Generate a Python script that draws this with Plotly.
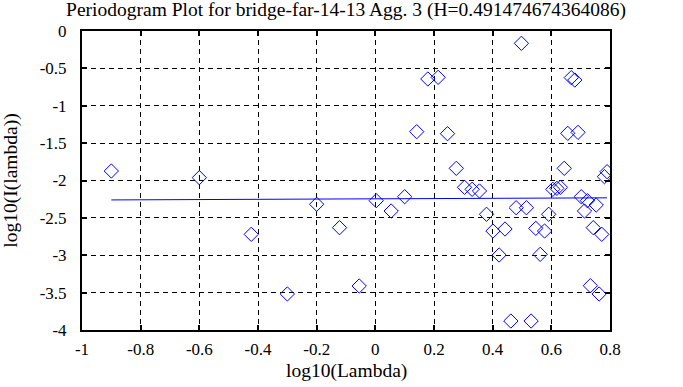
import plotly.graph_objects as go

log_lambda = [-0.9, -0.6, -0.423, -0.3, -0.2, -0.122, -0.055, 0.003, 0.054, 0.1,
              0.141, 0.179, 0.214, 0.246, 0.276, 0.304, 0.33, 0.355, 0.379, 0.401,
              0.422, 0.442, 0.462, 0.48, 0.498, 0.515, 0.531, 0.547, 0.562, 0.577,
              0.591, 0.605, 0.619, 0.631, 0.644, 0.656, 0.668, 0.68, 0.691, 0.702,
              0.713, 0.723, 0.733, 0.743, 0.753, 0.763, 0.772, 0.781, 0.79]
log_I = [-1.873, -1.962, -2.72, -3.518, -2.318, -2.631, -3.411, -2.27, -2.408, -2.217,
         -1.347, -0.642, -0.62, -1.374, -1.837, -2.091, -2.118, -2.14, -2.452, -2.676,
         -2.997, -2.649, -3.88, -2.364, -0.165, -2.364, -3.88, -2.64, -2.988, -2.676,
         -2.452, -2.118, -2.105, -2.091, -1.837, -1.369, -0.624, -0.656, -1.356, -2.217,
         -2.408, -2.27, -3.407, -2.631, -2.328, -3.518, -2.72, -1.949, -1.882]
fit_x = [-0.9, 0.79]
fit_y = [-2.26, -2.232]

x_ticks = [-1, -0.8, -0.6, -0.4, -0.2, 0, 0.2, 0.4, 0.6, 0.8]
x_tick_text = ["-1", "-0.8", "-0.6", "-0.4", "-0.2", "0", "0.2", "0.4", "0.6", "0.8"]
y_ticks = [0, -0.5, -1, -1.5, -2, -2.5, -3, -3.5, -4]
y_tick_text = ["0", "-0.5", "-1", "-1.5", "-2", "-2.5", "-3", "-3.5", "-4"]

title = "Periodogram Plot for bridge-far-14-13 Agg. 3 (H=0.491474674364086)"
x_title = "log10(Lambda)"
y_title = "log10(I(lambda))"

font = "Liberation Serif, Times New Roman, serif"
title_size = 19.5
tick_size = 17

fig = go.Figure()
fig.add_trace(go.Scatter(x=log_lambda, y=log_I, mode="markers",
                         marker=dict(symbol="diamond-open", size=11, color="#0000ff",
                                     line=dict(width=1, color="#0000ff")),
                         showlegend=False))
fig.add_trace(go.Scatter(x=fit_x, y=fit_y, mode="lines",
                         line=dict(color="#0000ff", width=1), showlegend=False))

axis_common = dict(showline=True, linecolor="black", linewidth=2, mirror="ticks",
                   ticks="inside", ticklen=5, tickwidth=2, tickcolor="black",
                   showgrid=True, gridcolor="black", gridwidth=1, griddash="5px,4px",
                   zeroline=False, automargin=False,
                   tickfont=dict(family=font, size=tick_size, color="black"))

fig.update_xaxes(range=[-1, 0.8], tickvals=x_ticks, ticktext=x_tick_text,
                 ticklabelstandoff=3, **axis_common)
fig.update_yaxes(range=[-4, 0], tickvals=y_ticks, ticktext=y_tick_text,
                 ticklabelstandoff=10,
                 title=dict(text=y_title, font=dict(family=font, size=title_size, color="black"), standoff=17),
                 **axis_common)

fig.add_annotation(text=x_title, xref="paper", yref="paper", x=0.5, y=0,
                   xanchor="center", yanchor="top", yshift=-28, showarrow=False,
                   font=dict(family=font, size=title_size, color="black"))

fig.update_layout(
    width=683, height=387,
    margin=dict(l=82, r=73, t=31, b=57),
    paper_bgcolor="white", plot_bgcolor="white",
    title=dict(text=title, x=0.5, xref="paper", y=0.994, yref="container", yanchor="top",
               pad=dict(t=0, b=0), font=dict(family=font, size=title_size, color="black")),
)

# remove the page's default 8px body margin so the figure sits at the window origin
fig.write_html("out.html", config={"displayModeBar": False},
               post_script="document.body.style.margin='0px';")
